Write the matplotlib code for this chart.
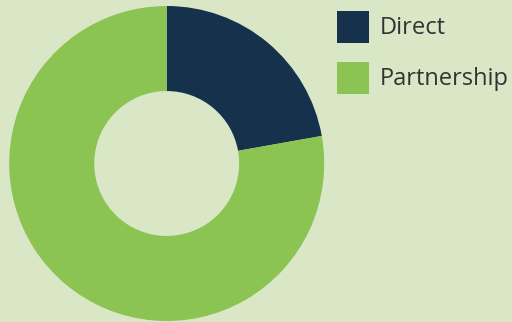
import matplotlib.pyplot as plt
from matplotlib.patches import Rectangle

labels = ["Direct", "Partnership"]
shares = [22.2, 77.8]
colors = ["#15314b", "#8bc453"]
background = "#d9e7c6"

fig = plt.figure(figsize=(5.12, 3.22), dpi=100, facecolor=background)

# donut on the left, square axes
W, H = 512, 322
cx, cy, r = 166.7, 163.5, 157.5
ax = fig.add_axes([(cx - r) / W, (H - cy - r) / H, 2 * r / W, 2 * r / H])
ax.set_facecolor(background)
ax.pie(
    shares,
    colors=colors,
    startangle=90,
    counterclock=False,
    radius=1.0,
    wedgeprops=dict(width=0.54, linewidth=0),
)
ax.set_xlim(-1, 1)
ax.set_ylim(-1, 1)
ax.set_aspect("auto")
ax.axis("off")

# legend: coloured squares with labels to the right
box = 32
for i, (lab, col) in enumerate(zip(labels, colors)):
    top = 11 + i * 51
    fig.patches.append(
        Rectangle((337 / W, (H - top - box) / H), box / W, box / H,
                  transform=fig.transFigure, facecolor=col, edgecolor="none")
    )
    fig.text(380 / W, (H - top - box / 2 - 1) / H, lab, fontsize=17,
             family="Open Sans", color="#333333", va="center", ha="left")

fig.savefig("out.png", dpi=100, facecolor=background)
